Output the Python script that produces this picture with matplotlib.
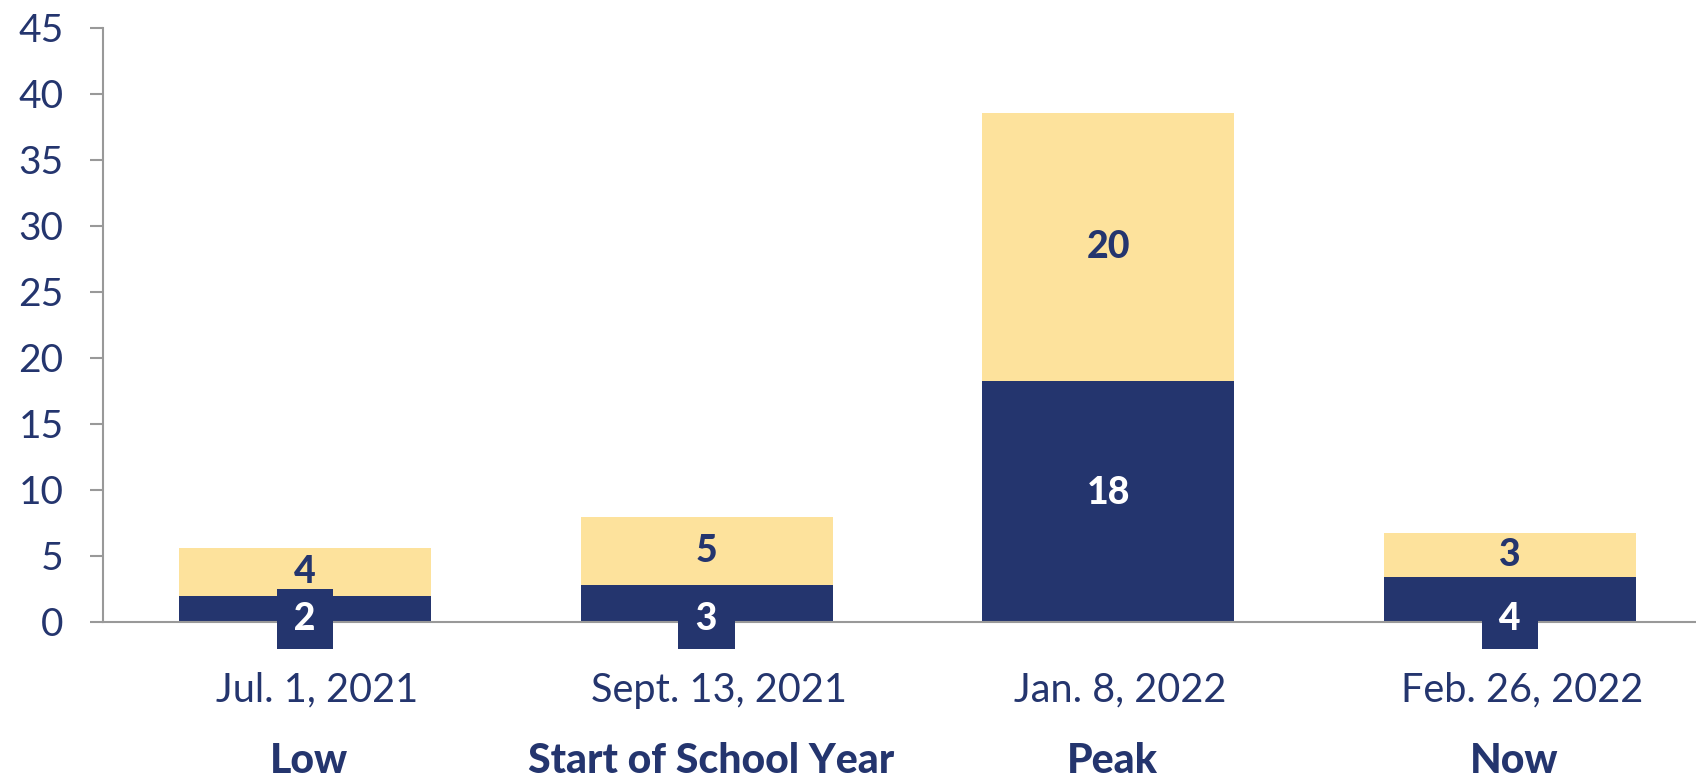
import numpy as np
import matplotlib.pyplot as plt
import matplotlib.transforms as mtransforms

# data
dates = ['Jul. 1, 2021', 'Sept. 13, 2021', 'Jan. 8, 2022', 'Feb. 26, 2022']
names = ['Low', 'Start of School Year', 'Peak', 'Now']
navy_vals = [1.95, 2.76, 18.25, 3.41]
yellow_vals = [3.61, 5.15, 20.29, 3.31]
navy_labels = ['2', '3', '18', '4']
yellow_labels = ['4', '5', '20', '3']

navy = '#24356E'
yellow = '#FDE29C'
grey = '#999999'

plt.rcParams['font.family'] = ['Lato', 'DejaVu Sans']

fig = plt.figure(figsize=(16.96, 7.77), dpi=100)
ax = fig.add_axes([103/1696, 1 - 621.7/777, 1 - 103/1696, (621.7 - 28)/777])

x = np.arange(len(dates))
w = 0.627
ax.bar(x, navy_vals, width=w, color=navy, zorder=2)
ax.bar(x, yellow_vals, width=w, bottom=navy_vals, color=yellow, zorder=2)

for i in range(len(x)):
    # yellow segment label, centred in segment
    yc = navy_vals[i] + yellow_vals[i] / 2
    ax.text(x[i], yc, yellow_labels[i], ha='center', va='center',
            fontsize=27, fontweight='black', color=navy, zorder=4)
    # navy label: small ones sit on the baseline in a navy box
    if navy_vals[i] < 5:
        ax.text(x[i], 0.2, '\u2009' + navy_labels[i] + '\u2009', ha='center', va='center',
                fontsize=27, fontweight='black', color='white', zorder=4,
                bbox=dict(boxstyle='square,pad=0.34', fc=navy, ec='none'))
    else:
        ax.text(x[i], navy_vals[i] / 2 + 0.6, navy_labels[i], ha='center', va='center',
                fontsize=27, fontweight='black', color='white', zorder=4)

ax.set_xlim(-0.503, 3.463)
ax.set_ylim(0, 45)
ax.set_yticks(range(0, 46, 5))
ax.set_xticks(x)
ax.set_xticklabels(dates)

ax.tick_params(axis='y', length=9.4, width=1.5, color=grey, pad=19,
               labelsize=28, labelcolor=navy)
ax.tick_params(axis='x', length=0, pad=36, labelsize=28.5, labelcolor=navy)

# dates sit a little right of the bar centres
shift = mtransforms.ScaledTranslation(12/100, 0, fig.dpi_scale_trans)
for lab in ax.get_xticklabels():
    lab.set_transform(lab.get_transform() + shift)

for s in ['top', 'right']:
    ax.spines[s].set_visible(False)
ax.spines['left'].set_color(grey)
ax.spines['bottom'].set_color(grey)
ax.spines['left'].set_linewidth(1.5)
ax.spines['bottom'].set_linewidth(1.5)
ax.spines['bottom'].set_zorder(3)

for i, n in enumerate(names):
    ax.annotate(n, xy=(x[i], 0), xycoords=('data', 'axes fraction'),
                xytext=(3, -100), textcoords='offset points',
                ha='center', va='center', fontsize=29.5, fontweight='black', color=navy)

fig.savefig('out.png', dpi=100)
